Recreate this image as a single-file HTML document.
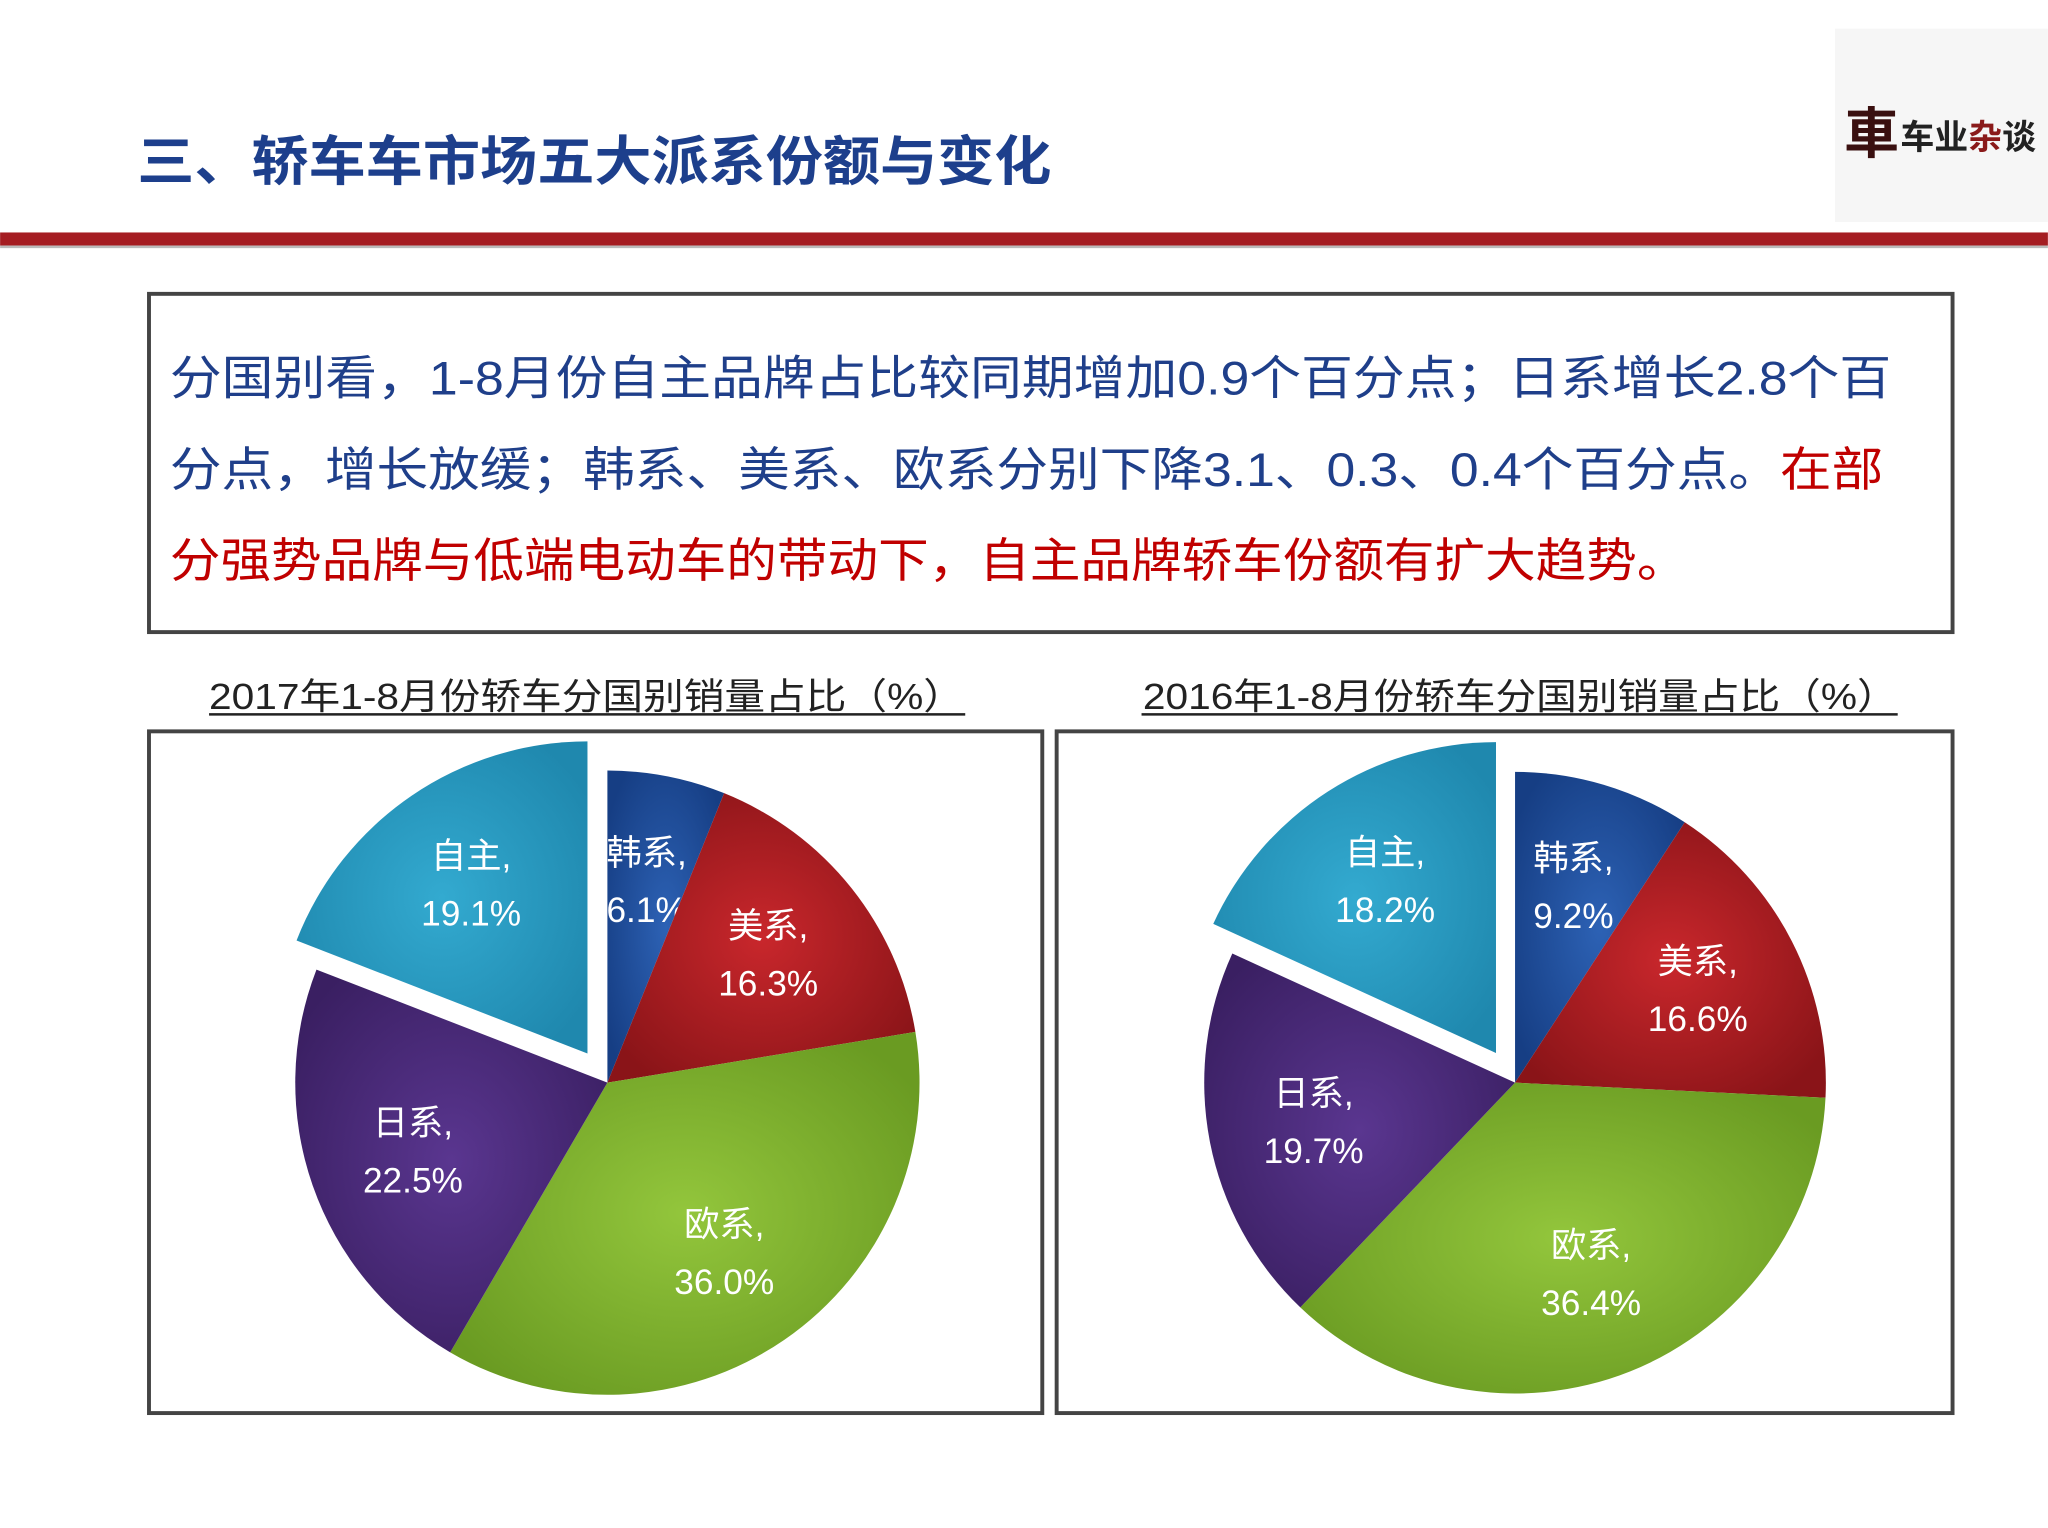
<!DOCTYPE html>
<html><head><meta charset="utf-8">
<style>
html,body{margin:0;padding:0;background:#fff;}
svg{display:block;}
text{font-family:"Liberation Sans","Noto Sans CJK SC",sans-serif;}
</style></head>
<body>
<svg id="page" width="2048" height="1528" viewBox="0 0 1568 1170" xmlns="http://www.w3.org/2000/svg">
<defs>
 <radialGradient id="g0" cx="50%" cy="50%" r="60%"><stop offset="0" stop-color="#2d62b5"/><stop offset="1" stop-color="#163e84"/></radialGradient>
 <radialGradient id="g1" cx="50%" cy="50%" r="60%"><stop offset="0" stop-color="#c9272c"/><stop offset="1" stop-color="#8a1418"/></radialGradient>
 <radialGradient id="g2" cx="50%" cy="50%" r="60%"><stop offset="0" stop-color="#93c63c"/><stop offset="1" stop-color="#6a9b22"/></radialGradient>
 <radialGradient id="g3" cx="50%" cy="50%" r="60%"><stop offset="0" stop-color="#5a3690"/><stop offset="1" stop-color="#3a1f62"/></radialGradient>
 <radialGradient id="g4" cx="50%" cy="50%" r="60%"><stop offset="0" stop-color="#33aad0"/><stop offset="1" stop-color="#1f88ae"/></radialGradient>
</defs>
<rect x="0" y="0" width="1568" height="1170" fill="#fff"/>
<text x="105" y="138" font-size="41" font-weight="bold" fill="#1d3f8c" textLength="700" lengthAdjust="spacingAndGlyphs">三、轿车车市场五大派系份额与变化</text>
<g>
 <rect x="1405" y="22" width="163" height="148" fill="#f6f6f6"/>
 <text x="1412" y="117" font-size="42" font-weight="bold" fill="#3a1010">車</text>
 <text x="1455" y="114" font-size="26" font-weight="bold" fill="#222">车业<tspan fill="#8a1a1a">杂</tspan>谈</text>
</g>
<rect x="0" y="178" width="1568" height="10" fill="#a51d22"/>
<rect x="0" y="188" width="1568" height="2" fill="#bbb"/>
<g>
 <rect x="114" y="225" width="1381" height="259" fill="#fff" stroke="#444" stroke-width="3"/>
 <text x="130" y="302" font-size="36" fill="#1f3f8a" textLength="1318" lengthAdjust="spacingAndGlyphs">分国别看，1-8月份自主品牌占比较同期增加0.9个百分点；日系增长2.8个百</text>
 <text x="130" y="372" font-size="36" fill="#1f3f8a" textLength="1312" lengthAdjust="spacingAndGlyphs">分点，增长放缓；韩系、美系、欧系分别下降3.1、0.3、0.4个百分点。<tspan fill="#c00000">在部</tspan></text>
 <text x="130" y="442" font-size="36" fill="#c00000" textLength="1162" lengthAdjust="spacingAndGlyphs">分强势品牌与低端电动车的带动下，自主品牌轿车份额有扩大趋势。</text>
</g>
<text x="160" y="543" font-size="28" fill="#222" textLength="578" lengthAdjust="spacingAndGlyphs">2017年1-8月份轿车分国别销量占比（%）</text>
<line x1="160" y1="547" x2="739" y2="547" stroke="#222" stroke-width="2"/>
<text x="875" y="543" font-size="28" fill="#222" textLength="578" lengthAdjust="spacingAndGlyphs">2016年1-8月份轿车分国别销量占比（%）</text>
<line x1="874" y1="547" x2="1453" y2="547" stroke="#222" stroke-width="2"/>
<rect x="114" y="560" width="684" height="522" fill="#fff" stroke="#444" stroke-width="3"/>
<rect x="809" y="560" width="686" height="522" fill="#fff" stroke="#444" stroke-width="3"/>
<g id="pies"></g>
</svg>
<script>
const categories = ["韩系","美系","欧系","日系","自主"];
const values2017 = [6.1,16.3,36.0,22.5,19.1];
const values2016 = [9.2,16.6,36.4,19.7,18.2];
const exploded = [false,false,false,false,true];
const NS="http://www.w3.org/2000/svg";
const root=document.getElementById('pies');
function drawPie(vals,cx,cy,r,tag){
  const tot=vals.reduce((a,b)=>a+b,0);
  let acc=0;
  vals.forEach((v,i)=>{
    const a0=acc/tot*2*Math.PI, a1=(acc+v)/tot*2*Math.PI; acc+=v;
    const am=(a0+a1)/2;
    const off=exploded[i]?27:0;
    const ox=cx+off*Math.sin(am), oy=cy-off*Math.cos(am);
    const x0=ox+r*Math.sin(a0), y0=oy-r*Math.cos(a0);
    const x1=ox+r*Math.sin(a1), y1=oy-r*Math.cos(a1);
    const p=document.createElementNS(NS,'path');
    p.setAttribute('d',`M${ox},${oy} L${x0},${y0} A${r},${r} 0 ${a1-a0>Math.PI?1:0} 1 ${x1},${y1} Z`);
    p.setAttribute('fill',`url(#g${i})`);
    
    
    root.appendChild(p);
    const lr=r*0.66;
    const lx=ox+lr*Math.sin(am), ly=oy-lr*Math.cos(am);
    const t=document.createElementNS(NS,'text');
    t.setAttribute('x',lx); t.setAttribute('y',ly-12);
    t.setAttribute('text-anchor','middle'); t.setAttribute('font-size','27'); t.setAttribute('fill','#fff');
    
    
    t.textContent=categories[i]+',';
    root.appendChild(t);
    const t2=document.createElementNS(NS,'text');
    t2.setAttribute('x',lx); t2.setAttribute('y',ly+32);
    t2.setAttribute('text-anchor','middle'); t2.setAttribute('font-size','27'); t2.setAttribute('fill','#fff');
    
    
    t2.textContent=v.toFixed(1)+'%';
    root.appendChild(t2);
  });
}
drawPie(values2017,465,829,239,'2017');
drawPie(values2016,1160,829,238,'2016');
</script>
</body></html>
